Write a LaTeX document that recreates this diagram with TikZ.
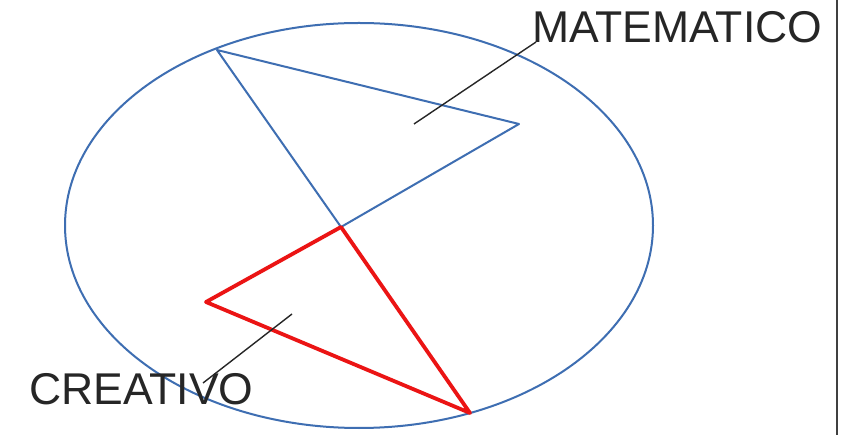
\documentclass[tikz,border=0pt]{standalone}
\usepackage{fontspec}
\setmainfont{Liberation Sans}
\usetikzlibrary{shapes.geometric}
\definecolor{ellblue}{RGB}{62,110,178}
\definecolor{trired}{RGB}{235,20,20}
\begin{document}
\begin{tikzpicture}[x=1pt,y=-1pt,
  blueline/.style={draw=ellblue,line width=2pt,line join=round},
  redline/.style={draw=trired,line width=3.8pt,line join=round},
  leader/.style={draw=black!85,line width=1.4pt},
  lbl/.style={font=\fontsize{44.5}{44.5}\selectfont,anchor=base west,inner sep=0pt,text=black!85}]
\useasboundingbox[fill=white] (0,0) rectangle (854,435);
% ellipse
\node[blueline,ellipse,minimum width=588pt,minimum height=405pt,inner sep=0pt] (ell) at (359,225.5) {};
% blue triangle
\coordinate (bA) at (217,50);
\coordinate (bB) at (519,124);
\coordinate (bC) at (341,227);
\draw[blueline] (bA) -- (bB) -- (bC) -- cycle;
% red triangle
\coordinate (rA) at (341,227);
\coordinate (rB) at (206,302);
\coordinate (rC) at (470,413);
\draw[redline] (rA) -- (rB) -- (rC) -- cycle;
% labels
\node[lbl] (mat) at (532,43) {MATEMATICO};
\node[lbl] (cre) at (29,405) {CREATIVO};
\coordinate (m1) at (414,124);
\coordinate (m2) at (536,42);
\coordinate (c1) at (292,314);
\coordinate (c2) at (203,383);
\draw[leader] (m1) -- (m2);
\draw[leader] (c1) -- (c2);
% right border
\coordinate (v1) at (837,0);
\coordinate (v2) at (837,435);
\draw[draw=black!75,line width=1.8pt] (v1) -- (v2);
\end{tikzpicture}
\end{document}
